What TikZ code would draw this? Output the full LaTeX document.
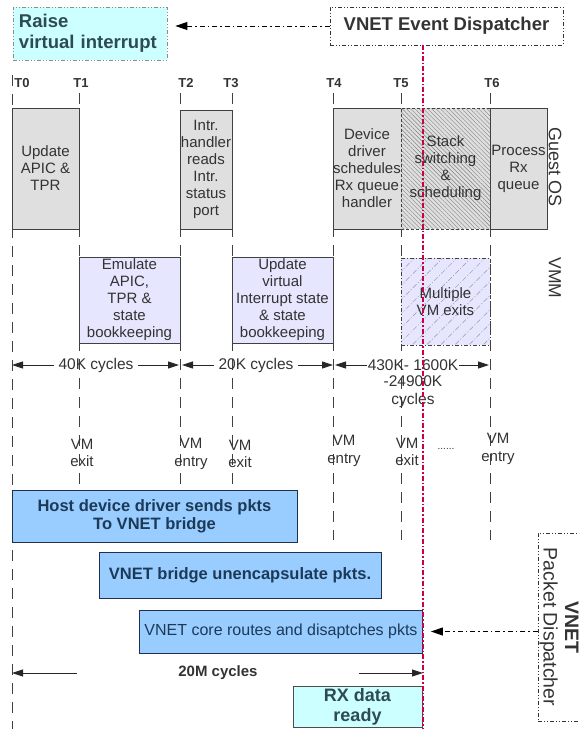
\documentclass[tikz,border=0pt]{standalone}
\usepackage{fontspec}
\setmainfont{Liberation Sans}
\usetikzlibrary{arrows.meta,patterns.meta}

\begin{document}
\begin{tikzpicture}[x=1pt, y=-1pt,
    box/.style={draw=black!75, line width=0.7pt, inner sep=0pt, align=center,
      text=txtgray, font=\fontsize{15}{17}\selectfont},
    guestbox/.style={box, fill=guestgray},
    vmmbox/.style={box, fill=vmmlav},
    hostbox/.style={draw=navyline, line width=0.8pt, fill=hostblue, inner sep=0pt,
      align=center, text=navytxt, font=\fontsize{16.5}{18}\selectfont\bfseries},
    cyanbox/.style={fill=cyanfill, inner sep=0pt, text=slatetxt,
      font=\fontsize{18.5}{21}\selectfont\bfseries},
    dispbox/.style={draw=black!80, line width=0.8pt,
      dash pattern=on 4pt off 2pt on 1pt off 2pt on 1pt off 2pt, inner sep=0pt},
    tlabel/.style={text=txtgray, font=\fontsize{13}{15}\selectfont\bfseries},
    rowlabel/.style={rotate=-90, text=txtgray, font=\fontsize{18}{20}\selectfont},
    cyctext/.style={text=txtgray, inner sep=4pt, align=center, font=\fontsize{15.5}{17.5}\selectfont},
    vmtext/.style={text=txtgray, inner sep=0pt, align=center, font=\fontsize{15}{17.5}\selectfont},
    timeline/.style={draw=black!75, line width=0.8pt, dash pattern=on 11pt off 8pt},
    cycarrow/.style={draw=black!85, line width=0.8pt, -{Triangle[length=11pt,width=7pt]}},
    disparrow/.style={draw=black, line width=1pt,
      dash pattern=on 5pt off 3pt on 1.5pt off 3pt, -{Triangle[length=12pt,width=8pt]}},
    redline/.style={draw=redvline, line width=1.2pt, dash pattern=on 5pt off 2pt on 1.5pt off 2pt}]
  \definecolor{guestgray}{HTML}{DFDFDF}
  \definecolor{vmmlav}{HTML}{E6E6FF}
  \definecolor{hostblue}{HTML}{99CCFF}
  \definecolor{navyline}{HTML}{1F2F4F}
  \definecolor{navytxt}{HTML}{1C3A58}
  \definecolor{cyanfill}{HTML}{CCFFFF}
  \definecolor{slatetxt}{HTML}{2E4A52}
  \definecolor{txtgray}{HTML}{333333}
  \definecolor{redvline}{HTML}{CC0044}
  \def\tzero{12}
  \def\tone{79}
  \def\ttwo{180}
  \def\tthree{232}
  \def\tfour{333}
  \def\tfive{401}
  \def\tsix{490}
  \def\vline{423}
  \useasboundingbox (0,0) rectangle (579,729);
  \clip (0,0) rectangle (579,729);

  % time axis
  \draw[timeline] (\tzero,75) -- (\tzero,729);
  \foreach \x in {\tone,\ttwo,\tthree}
    \draw[timeline] (\x,93) -- (\x,490);
  \foreach \x in {\tfour,\tfive,\tsix}
    \draw[timeline] (\x,93) -- (\x,540);

  % dispatchers on top
  \node[cyanbox, dispbox, draw=black!45, minimum width=154, minimum height=53,
    align=left, text width=142] (raise) at (90,33.5) {Raise\\virtual interrupt};
  \node[dispbox, text=txtgray, font=\fontsize{18.5}{21}\selectfont\bfseries,
    minimum width=233, minimum height=38] (evdisp) at (446.5,26) {VNET Event Dispatcher};
  \draw[disparrow, shorten >=8pt] (evdisp.west) -- (evdisp.west -| raise.east);

  \node[tlabel] (t0) at (22,83) {T0};
  \node[tlabel] (t1) at (81,83) {T1};
  \node[tlabel] (t2) at (186,83) {T2};
  \node[tlabel] (t3) at (231,83) {T3};
  \node[tlabel] (t4) at (334,83) {T4};
  \node[tlabel] (t5) at (401,83) {T5};
  \node[tlabel] (t6) at (492,83) {T6};

  % guest OS
  \node[guestbox, minimum width=67, minimum height=121] (apic) at (45.5,168.5) {Update\\APIC \&\\TPR};
  \node[guestbox, minimum width=52, minimum height=119] (intr) at (206,169.5)
    {Intr.\\handler\\reads\\Intr.\\status\\port};
  \node[guestbox, minimum width=68, minimum height=121] (sched) at (367,168.5)
    {Device\\driver\\schedules\\Rx queue\\handler};
  \node[box, preaction={fill=guestgray}, pattern={Lines[angle=-45,distance=3pt,line width=0.4pt]},
    pattern color=black!50, dash pattern=on 3pt off 2pt, minimum width=89, minimum height=121]
    (stack) at (445.5,168.5) {Stack\\switching\\\&\\scheduling};
  \node[guestbox, minimum width=57, minimum height=121] (rxq) at (518.5,168.5) {Process\\Rx\\queue};
  \node[rowlabel] (guest) at (555,167) {Guest OS};

  % VMM
  \node[vmmbox, minimum width=101, minimum height=86] (emul) at (129.5,300)
    {Emulate\\APIC,\\TPR \&\\state\\bookkeeping};
  \node[vmmbox, minimum width=101, minimum height=86] (updvirt) at (282.5,300)
    {Update\\virtual\\Interrupt state\\\& state\\bookkeeping};
  \node[box, preaction={fill=vmmlav}, pattern={Lines[angle=45,distance=10pt,line width=0.5pt]},
    pattern color=black!40, dash pattern=on 4pt off 2pt on 1pt off 2pt, minimum width=89, minimum height=87]
    (exits) at (445.5,301.5) {Multiple\\VM exits};
  \node[rowlabel, font=\fontsize{17.5}{20}\selectfont] (vmm) at (555,278) {VMM};

  % cycle counts
  \coordinate (ca) at (\tzero,365);
  \coordinate (cb) at (\ttwo,365);
  \coordinate (cc) at (\tfour,365);
  \coordinate (cd) at (\tsix,365);
  \node[cyctext] (cyca) at (96,365) {40K cycles};
  \node[cyctext] (cycb) at (256,365) {20K cycles};
  \node[cyctext, inner sep=1pt] (cycc) at (413,365) {430K- 1600K};
  \node[cyctext, inner sep=0pt] (cycd) at (413,391.5) {-24900K\\cycles};
  \draw[cycarrow] (cyca.west) -- (ca);
  \draw[cycarrow, shorten >=1pt] (cyca.east) -- (cb);
  \draw[cycarrow, shorten >=2pt] (cycb.west) -- (cb);
  \draw[cycarrow] (cycb.east) -- (cc);
  \draw[cycarrow, shorten >=2pt] (cycc.west) -- (cc);
  \draw[cycarrow, shorten >=1pt] (cycc.east) -- (cd);

  % VM exits and entries
  \node[vmtext] (exa) at (82,453) {VM\\exit};
  \node[vmtext] (ena) at (191,454) {VM\\entry};
  \node[vmtext] (exb) at (240,454) {VM\\exit};
  \node[vmtext] (enb) at (344,451) {VM\\entry};
  \node[vmtext] (exc) at (407,452) {VM\\exit};
  \node[vmtext, font=\fontsize{10}{12}\selectfont] (more) at (446,449) {......};
  \node[vmtext] (enc) at (498,449) {VM\\entry};

  % host side
  \node[hostbox, minimum width=285, minimum height=52] (sends) at (154.5,516)
    {Host device driver sends pkts\\To VNET bridge};
  \node[hostbox, minimum width=282, minimum height=46] (unenc) at (240,575)
    {VNET bridge unencapsulate pkts.};
  \node[hostbox, font=\fontsize{16}{18}\selectfont, minimum width=283, minimum height=43]
    (routes) at (281,631.5) {VNET core routes and disaptches pkts};
  \coordinate (ma) at (\tzero,673);
  \coordinate (mb) at (\vline,673);
  \node[cyctext, font=\fontsize{15}{17}\selectfont\bfseries] (twentym) at (218,673) {20M cycles};
  \draw[cycarrow, shorten <=97pt] (twentym.west) -- (ma);
  \draw[cycarrow, shorten <=97pt] (twentym.east) -- (mb);
  \node[cyanbox, draw=black!70, line width=0.7pt, align=center, font=\fontsize{18}{20}\selectfont\bfseries,
    minimum width=129, minimum height=41] (rxdata) at (357.5,706.5) {RX data\\ready};

  \node[dispbox, minimum width=50, minimum height=188] (pktdisp) at (563,627) {};
  \node[rotate=-90, align=center, text=txtgray, inner sep=0pt, font=\fontsize{19.5}{21.5}\selectfont]
    (pktlabel) at (559,627) {\textbf{VNET}\\Packet Dispatcher};
  \draw[disparrow, shorten >=8pt] (pktdisp.west |- routes.east) -- (routes.east);

  \draw[redline] (\vline,45) -- (\vline,729);
\end{tikzpicture}
\end{document}
